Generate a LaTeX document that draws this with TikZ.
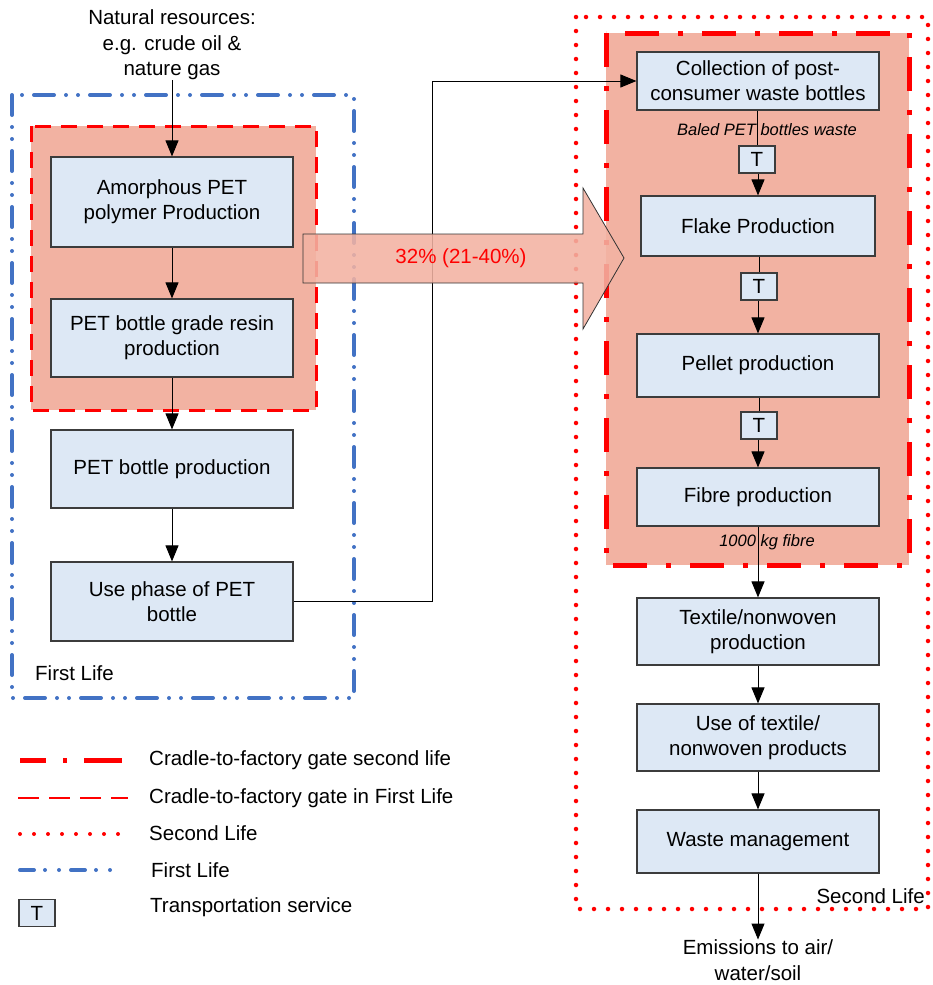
\documentclass[tikz,border=0pt]{standalone}
\usepackage{fontspec}
\setmainfont{Liberation Sans}
\usetikzlibrary{arrows.meta}
\definecolor{salmon}{RGB}{242,178,162}
\definecolor{boxfill}{RGB}{221,232,245}
\definecolor{boxline}{RGB}{60,60,60}
\definecolor{lifeblue}{RGB}{66,114,196}
\definecolor{pured}{RGB}{255,0,0}
\tikzset{
  proc/.style={draw=boxline, line width=1.2pt, fill=boxfill, minimum width=242pt, align=center, inner sep=0pt, font=\fontsize{20.5}{25}\selectfont},
  tbox/.style={draw=boxline, line width=1.2pt, fill=boxfill, minimum width=36pt, minimum height=27pt, inner sep=0pt, font=\fontsize{20.5}{25}\selectfont},
  lbl/.style={align=center, inner sep=0pt, font=\fontsize{20.5}{25.5}\selectfont},
  ital/.style={inner sep=0pt, font=\fontsize{16.5}{20}\selectfont\itshape},
  flow/.style={line width=1pt, -{Triangle[length=16pt,width=13pt]}},
  plain/.style={line width=1pt},
  firstlife/.style={draw=lifeblue, line width=4pt, line cap=round, dash pattern=on 20pt off 12pt on 0pt off 12pt on 0pt off 12pt},
  gatefirst/.style={draw=pured, line width=3pt, dash pattern=on 16pt off 10pt},
  gatesecond/.style={draw=pured, line width=5pt, dash pattern=on 34pt off 19pt on 5pt off 19pt},
  secondlife/.style={draw=pured, line width=4.5pt, line cap=round, dash pattern=on 0pt off 14pt}
}
\begin{document}
\begin{tikzpicture}[x=1pt,y=-1pt]
\useasboundingbox (0,0) rectangle (933,985);
% region frames
\draw[firstlife] (12,95) rectangle (354,698);
\filldraw[fill=salmon, gatefirst] (31,126) rectangle (316,410);
\draw[secondlife] (576,17) rectangle (928,909);
\filldraw[fill=salmon, gatesecond] (606,33) rectangle (909,565);
% texts
\node[lbl] (nat) at (172,45) {Natural resources:\\e.g. crude oil \&\\nature gas};
\node[lbl, anchor=west] (fl) at (35,673) {First Life};
\node[lbl, anchor=east] (sl) at (925,896) {Second Life};
% first life boxes
\node[proc, minimum height=90pt] (am) at (172,202) {Amorphous PET\\polymer Production};
\node[proc, minimum height=78pt] (resin) at (172,338) {PET bottle grade resin\\production};
\node[proc, minimum height=78pt] (bottle) at (172,469) {PET bottle production};
\node[proc, minimum height=79pt] (use) at (172,601.5) {Use phase of PET\\bottle};
% second life boxes
\node[proc, minimum height=58pt] (coll) at (758,81) {Collection of post-\\consumer waste bottles};
\node[tbox] (t1) at (757,159.5) {T};
\node[proc, minimum width=234pt, minimum height=60pt] (flake) at (758,226) {Flake Production};
\node[tbox] (t2) at (759,286.5) {T};
\node[proc, minimum height=63pt] (pellet) at (758,365.5) {Pellet production};
\node[tbox] (t3) at (759,425.5) {T};
\node[proc, minimum height=58pt] (fibre) at (758,497) {Fibre production};
\node[proc, minimum height=67pt] (textile) at (758,631.5) {Textile/nonwoven\\production};
\node[proc, minimum height=67pt] (usetex) at (758,737.5) {Use of textile/\\nonwoven products};
\node[proc, minimum height=63pt] (waste) at (758,841.5) {Waste management};
\node[lbl] (emis) at (758,960) {Emissions to air/\\water/soil};
% connectors first life
\draw[flow] (nat.south -| am.north) -- (am.north);
\draw[flow] (am) -- (resin);
\draw[flow] (resin) -- (bottle);
\draw[flow] (bottle) -- (use);
\coordinate (c1) at (432,601.5);
\coordinate (c2) at (432,81);
\draw[flow] (use.east) -- (c1) -- (c2) -- (coll.west);
% connectors second life
\draw[plain] (coll.south -| t1.north) -- (t1.north);
\draw[flow] (t1.south -| flake.north) -- (flake.north);
\draw[plain] (flake.south -| t2.north) -- (t2.north);
\draw[flow] (t2.south -| pellet.north) -- (pellet.north);
\draw[plain] (pellet.south -| t3.north) -- (t3.north);
\draw[flow] (t3.south -| fibre.north) -- (fibre.north);
\draw[flow] (fibre) -- (textile);
\draw[flow] (textile) -- (usetex);
\draw[flow] (usetex) -- (waste);
\draw[flow] (waste.south) -- (emis.north);
\node[ital] (baled) at (767,130) {Baled PET bottles waste};
\node[ital] (kg) at (767,542) {1000 kg fibre};
% big arrow
\draw[fill=salmon, fill opacity=0.88, draw=black!80, line width=0.8pt]
  (303,234) -- (583,234) -- (583,188) -- (624,258) -- (583,329) -- (583,283) -- (303,283) -- cycle;
\node[lbl, text=pured] (pct) at (461,258) {32\% (21-40\%)};
% legend
\coordinate (l1a) at (20,760); \coordinate (l1b) at (122,760);
\coordinate (l2a) at (18,798); \coordinate (l2b) at (128,798);
\coordinate (l3a) at (20,834); \coordinate (l3b) at (120,834);
\coordinate (l4a) at (20,870); \coordinate (l4b) at (118,870);
\draw[pured, line width=5pt, dash pattern=on 26pt off 17pt on 4pt off 17pt on 40pt] (l1a) -- (l1b);
\draw[pured, line width=2.5pt, dash pattern=on 21pt off 10pt] (l2a) -- (l2b);
\draw[pured, line width=4pt, line cap=round, dash pattern=on 0pt off 14pt] (l3a) -- (l3b);
\draw[lifeblue, line width=4pt, line cap=round, dash pattern=on 14pt off 11pt on 0pt off 14pt on 0pt off 12pt] (l4a) -- (l4b);
\node[tbox] (tl) at (37,913) {T};
\node[lbl, anchor=west] (lg1) at (149,760) {Cradle-to-factory gate second life};
\node[lbl, anchor=west] (lg2) at (149,798) {Cradle-to-factory gate in First Life};
\node[lbl, anchor=west] (lg3) at (149,833) {Second Life};
\node[lbl, anchor=west] (lg4) at (151,870) {First Life};
\node[lbl, anchor=west] (lg5) at (150,907) {Transportation service};
\end{tikzpicture}
\end{document}
